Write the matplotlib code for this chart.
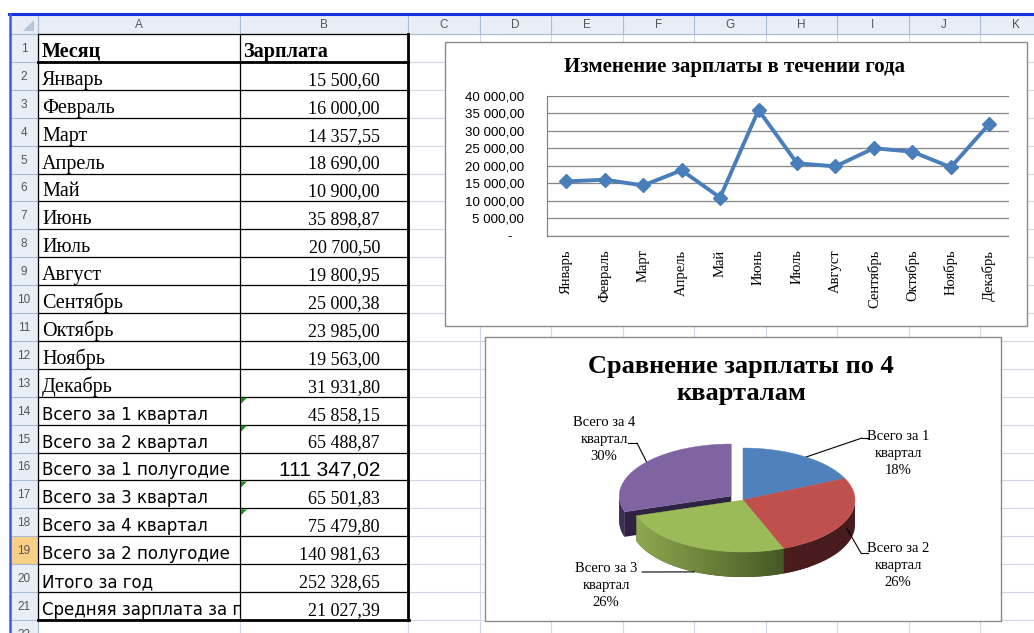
import numpy as np
import matplotlib
matplotlib.use('Agg')
import matplotlib.pyplot as plt
from matplotlib.patches import Rectangle, Polygon
from matplotlib.colors import LinearSegmentedColormap
from matplotlib.ticker import FuncFormatter
from matplotlib.transforms import Bbox, TransformedBbox

# ---- data ----
months = ['Январь', 'Февраль', 'Март', 'Апрель', 'Май', 'Июнь', 'Июль',
          'Август', 'Сентябрь', 'Октябрь', 'Ноябрь', 'Декабрь']
salary = [15500.60, 16000.00, 14357.55, 18690.00, 10900.00, 35898.87,
          20700.50, 19800.95, 25000.38, 23985.00, 19563.00, 31931.80]
summary_labels = ['Всего за 1 квартал', 'Всего за 2 квартал', 'Всего за 1 полугодие',
                  'Всего за 3 квартал', 'Всего за 4 квартал', 'Всего за 2 полугодие',
                  'Итого за год', 'Средняя зарплата за год']
summary_values = [45858.15, 65488.87, 111347.02, 65501.83, 75479.80,
                  140981.63, 252328.65, 21027.39]
quarter_labels = ['Всего за 1\nквартал', 'Всего за 2\nквартал',
                  'Всего за 3\nквартал', 'Всего за 4\nквартал']
quarter_values = [45858.15, 65488.87, 65501.83, 75479.80]
col_letters = ['A', 'B', 'C', 'D', 'E', 'F', 'G', 'H', 'I', 'J', 'K']

W, H = 1034, 633
SERIF = 'Liberation Serif'
SANS = 'Liberation Sans'


def rub(v):
    return f"{v:,.2f}".replace(',', ' ').replace('.', ',')


fig = plt.figure(figsize=(W / 100, H / 100), dpi=100)
fig.patch.set_facecolor('white')

# ---- sheet background (pixel coords) ----
bg = fig.add_axes([0, 0, 1, 1])
bg.set_xlim(0, W)
bg.set_ylim(H, 0)
bg.axis('off')

col_edges = [38, 240, 408] + [408 + 71.5 * k for k in range(1, 10)]
row_h = 27.9
row_top = 34
row_edges = [row_top + row_h * k for k in range(23)]

# grid of the sheet
for x in col_edges:
    bg.plot([x, x], [row_top, H], color='#D0D7E5', lw=0.8, zorder=1)
for y in row_edges:
    bg.plot([38, W], [y, y], color='#D0D7E5', lw=0.8, zorder=1)

# headers
bg.add_patch(Rectangle((10, 14), W - 10, 20, fc='#E8EEF6', ec='none', zorder=2))
bg.add_patch(Rectangle((10, 34), 28, H - 34, fc='#E8EEF6', ec='none', zorder=2))
bg.add_patch(Rectangle((10, row_edges[18]), 28, row_h, fc='#F9CF86', ec='none', zorder=2))
for x in col_edges:
    bg.plot([x, x], [14, 34], color='#A9BCD3', lw=0.8, zorder=3)
for y in row_edges:
    bg.plot([10, 38], [y, y], color='#A9BCD3', lw=0.8, zorder=3)
bg.plot([10, W], [34, 34], color='#A9BCD3', lw=0.8, zorder=3)
bg.plot([38, 38], [14, H], color='#A9BCD3', lw=0.8, zorder=3)
bg.add_patch(Polygon([(34, 20), (34, 31), (23, 31)], closed=True, fc='#B6C5D8', ec='none', zorder=3))

for i, c in enumerate(col_letters):
    bg.text((col_edges[i] + col_edges[i + 1]) / 2, 25, c, ha='center', va='center',
            fontsize=8.5, family=SANS, color='#555555', zorder=4)
for r in range(1, 23):
    bg.text(24, row_edges[r - 1] + row_h / 2 + 1, str(r), ha='center', va='center',
            fontsize=8.5, family=SANS, color='#555555', zorder=4)

# blue frame of the window
bg.plot([9, W], [13.5, 13.5], color='#1432E0', lw=2.2, zorder=5)
bg.plot([10, 10], [13.5, H], color='#3A5AEA', lw=1.8, zorder=5)

# ---- table A1:B21 ----
for y in row_edges[1:21]:
    bg.plot([38, 408], [y, y], color='black', lw=0.9, zorder=6)
bg.plot([240, 240], [34, row_edges[21]], color='black', lw=0.9, zorder=6)
bg.plot([38, 38], [34, row_edges[21]], color='black', lw=0.9, zorder=6)
bg.plot([38, 408], [34, 34], color='black', lw=0.9, zorder=6)
bg.plot([38, 408], [row_edges[1], row_edges[1]], color='black', lw=2.0, zorder=6)
bg.plot([408, 408], [34, row_edges[21]], color='black', lw=2.0, zorder=6)
bg.plot([38, 409], [row_edges[21], row_edges[21]], color='black', lw=2.0, zorder=6)

clip_a = TransformedBbox(Bbox([[38, 0], [240, H]]), bg.transData)


def base(r):
    return row_edges[r] - 5


bg.text(42, base(1), 'Месяц', family=SERIF, weight='bold', fontsize=14.5, va='baseline', zorder=7)
bg.text(243, base(1), 'Зарплата', family=SERIF, weight='bold', fontsize=14.5, va='baseline', zorder=7)
for i, (m, v) in enumerate(zip(months, salary)):
    r = i + 2
    bg.text(42, base(r), m, family=SERIF, fontsize=14.5, va='baseline', zorder=7)
    bg.text(380, base(r), rub(v), family=SERIF, fontsize=13, va='baseline', ha='right', zorder=7)
for i, (lab, v) in enumerate(zip(summary_labels, summary_values)):
    r = i + 14
    t = bg.text(42, base(r), lab, family='DejaVu Sans', fontsize=12, va='baseline', zorder=7)
    t.set_clip_box(clip_a)
    t.set_clip_on(True)
    if lab == 'Всего за 1 полугодие':
        bg.text(380, base(r), rub(v), family=SANS, fontsize=15, va='baseline', ha='right', zorder=7)
    else:
        bg.text(380, base(r), rub(v), family=SERIF, fontsize=13, va='baseline', ha='right', zorder=7)
for r in [14, 15, 17, 18]:
    y0 = row_edges[r - 1] + 1
    bg.add_patch(Polygon([(241, y0), (247, y0), (241, y0 + 6)], closed=True,
                         fc='#1E8C1E', ec='none', zorder=7))

# ---- chart frames ----
bg.add_patch(Rectangle((445, 42), 582, 284, fc='white', ec='#8A8A8A', lw=1.0, zorder=8))
bg.add_patch(Rectangle((485, 337), 516, 284, fc='white', ec='#8A8A8A', lw=1.0, zorder=8))

bg.text(735, 67, 'Изменение зарплаты в течении года', family=SERIF, weight='bold',
        fontsize=15, ha='center', va='center', zorder=9)
bg.text(741, 380, 'Сравнение зарплаты по 4\nкварталам', family=SERIF, weight='bold',
        fontsize=19, ha='center', va='center', linespacing=1.2, zorder=9)

# ---- line chart ----
ax = fig.add_axes([547 / W, 1 - 235.7 / H, 461.5 / W, 140 / H])
ax.patch.set_alpha(0)
x = np.arange(len(months))
ax.plot(x, salary, color='#4A7EBB', lw=2.8, marker='D', ms=7,
        mfc='#4A7EBB', mec='#4A7EBB', zorder=3, clip_on=False)
ax.set_xlim(-0.5, 11.5)
ax.set_ylim(0, 40000)
ax.set_yticks(np.arange(0, 40001, 5000))
ax.yaxis.set_major_formatter(FuncFormatter(lambda v, p: '-   ' if v == 0 else rub(v)))
ax.set_xticks(x)
ax.set_xticklabels(months, rotation=90, family=SERIF, fontsize=10.5, va='top')
for lab in ax.get_yticklabels():
    lab.set_family(SANS)
    lab.set_fontsize(9.6)
ax.tick_params(axis='both', length=0)
ax.tick_params(axis='y', pad=16.5)
ax.tick_params(axis='x', pad=10)
ax.grid(axis='y', color='#868686', lw=0.9)
ax.set_axisbelow(True)
for s in ['top', 'right']:
    ax.spines[s].set_visible(False)
for s in ['left', 'bottom']:
    ax.spines[s].set_color('#868686')
    ax.spines[s].set_linewidth(0.9)

# ---- 3D pie ----
axp = fig.add_axes([485 / W, 1 - 621 / H, 516 / W, 284 / H])
axp.axis('off')
XL = (-2.304, 2.304)
YL = (-2.327, 3.135)
depth = 25 / 52

top_colors = ['#4F81BD', '#C0504D', '#9BBB59', '#8064A2']
side_colors = [('#2E4B70', '#263F5E'), ('#5A2626', '#481C1C'),
               ('#97B556', '#3A4A1E'), ('#3E3054', '#2E2340')]
explode = [0, 0, 0, 0.13]

frac = np.array(quarter_values) / np.sum(quarter_values)
bounds = 90 - 360 * np.concatenate([[0], np.cumsum(frac)])
wedges = []
for i in range(4):
    t0, t1 = bounds[i], bounds[i + 1]
    mid = np.radians((t0 + t1) / 2)
    ox, oy = explode[i] * np.cos(mid), explode[i] * np.sin(mid)
    wedges.append((t0, t1, mid, ox, oy))


def side_with_gradient(poly, c_light, c_dark, z):
    patch = Polygon(poly, closed=True, fc=c_dark, ec='none', zorder=z)
    axp.add_patch(patch)
    cmap = LinearSegmentedColormap.from_list('s', [c_light, c_dark])
    grad = np.linspace(0, 1, 256).reshape(1, -1)
    im = axp.imshow(grad, cmap=cmap, extent=[-1.15, 0.6, -1.6, 0.3], aspect='auto', zorder=z + 0.1)
    im.set_clip_path(patch)


# walls: exploded wedges first (they sit behind), then the rest
order = sorted(range(4), key=lambda k: -explode[k])
for i in order:
    t0, t1, mid, ox, oy = wedges[i]
    if explode[i] > 0:
        for phi, nrm in [(t0, t0 + 90), (t1, t1 - 90)]:
            if np.sin(np.radians(nrm)) < 0:
                p = np.radians(phi)
                face = [(ox, oy), (ox + np.cos(p), oy + np.sin(p)),
                        (ox + np.cos(p), oy + np.sin(p) - depth), (ox, oy - depth)]
                axp.add_patch(Polygon(face, closed=True, fc=side_colors[i][1], ec='none', zorder=2))
    th = np.radians(np.linspace(t1, t0, 400))
    th = th[np.sin(th) <= 0]
    if len(th) > 1:
        upper = np.column_stack([ox + np.cos(th), oy + np.sin(th)])
        lower = upper[::-1] - [0, depth]
        side_with_gradient(np.vstack([upper, lower]), side_colors[i][0], side_colors[i][1], 2 + i * 0.01)

for i in range(4):
    t0, t1, mid, ox, oy = wedges[i]
    th = np.radians(np.linspace(t0, t1, 200))
    pts = np.vstack([[ox, oy], np.column_stack([ox + np.cos(th), oy + np.sin(th)])])
    axp.add_patch(Polygon(pts, closed=True, fc=top_colors[i], ec=top_colors[i], lw=0.3, zorder=4))

axp.set_xlim(*XL)
axp.set_ylim(*YL)

# data labels with leader lines
pct = [f"{round(f * 100):.0f}%" for f in frac]
label_pos = [(898, 453), (898, 566), (606, 585), (604, 440)]
elbows = [[(868, 438), (862, 438)], [(868, 553), (861, 553)],
          [(642, 572), (642, 572)], [(628, 443), (637, 443)]]
anchor = [(0.93, 0.0), (1.0, 0.35), (1.0, 1.0), (0.9, 0.0)]
for i in range(4):
    t0, t1, mid, ox, oy = wedges[i]
    bg.text(label_pos[i][0], label_pos[i][1], quarter_labels[i] + '\n' + pct[i],
            family=SERIF, fontsize=10.5, ha='center', va='center', linespacing=1.4, zorder=9)
    (xa, ya), (xb, yb) = elbows[i]
    bg.plot([xa, xb], [ya, yb], color='black', lw=0.8, zorder=9)
    r, dd = anchor[i]
    axp.annotate('', xy=(ox + r * np.cos(mid), oy + r * np.sin(mid) - dd * depth), xycoords='data',
                 xytext=(xb, yb), textcoords=bg.transData,
                 arrowprops=dict(arrowstyle='-', color='black', lw=0.8, shrinkA=0, shrinkB=0))

fig.savefig('out.png', dpi=100, facecolor='white')
